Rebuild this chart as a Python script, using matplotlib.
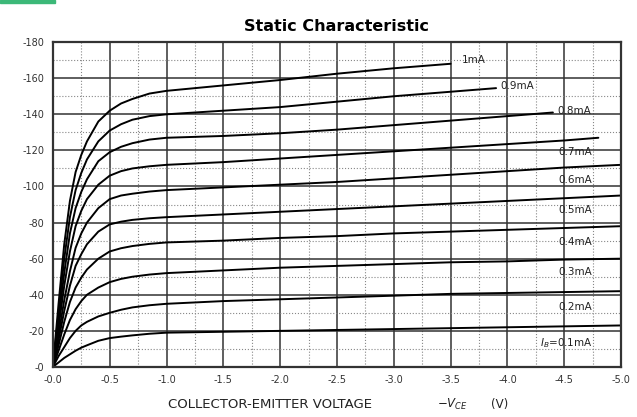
import numpy as np
import matplotlib.pyplot as plt
from matplotlib.patches import Rectangle
from matplotlib.ticker import MultipleLocator

# collector-emitter voltage grid (V, magnitude) and curve end points
vce = [0, 0.05, 0.1, 0.15, 0.2, 0.25, 0.3, 0.4, 0.5, 0.6, 0.7, 0.85, 1.0,
       1.5, 2.0, 2.5, 3.0, 3.5, 4.0, 4.5, 5.0]
vce_end = [5.0, 5.0, 5.0, 5.0, 5.0, 5.0, 4.8, 4.4, 3.9, 3.5]

# collector current (uA, magnitude), one list per base current
ic_01 = [0, 2.5, 5, 7, 9, 10.7, 12, 14.5, 16, 16.8, 17.5, 18.4, 19, 19.5, 20, 20.5, 21, 21.5, 22, 22.5, 23]
ic_02 = [0, 6, 11, 16, 20, 23, 25, 28, 30, 31.7, 33, 34.2, 35, 36.5, 37.5, 38.5, 39.5, 40.5, 41, 41.5, 42]
ic_03 = [0, 9, 18, 26, 32, 36.5, 40, 44, 47, 48.8, 50, 51.2, 52, 53.5, 55, 56, 57, 58, 58.5, 59.5, 60]
ic_04 = [0, 12, 25, 36, 44, 49.5, 54, 60, 64, 65.8, 67, 68.2, 69, 70, 71.5, 72.5, 74, 75, 76, 77, 78]
ic_05 = [0, 15, 31, 45, 56, 62.5, 68, 75, 79, 80.5, 81.5, 82.4, 83, 84.5, 86, 87.5, 89, 90.5, 92, 93.5, 95]
ic_06 = [0, 18, 37, 53, 66, 74, 80, 88, 93, 95, 96, 97.2, 98, 99.5, 101, 102.5, 104.5, 106.5, 108.5, 110.5, 112]
ic_07 = [0, 22, 45, 64, 78, 86.5, 93, 101, 106, 108.5, 110, 111.2, 112, 113.5, 115.5, 117.5, 119.5, 121.5, 123.5, 125.5, 127]
ic_08 = [0, 26, 52, 74, 88, 97, 104, 114, 119, 122, 124, 126, 127, 128, 129.5, 131.5, 134, 136.5, 139, 141]
ic_09 = [0, 30, 60, 83, 98, 107.5, 115, 125, 131, 134.5, 137, 139, 140, 142, 144, 147, 150, 152.5, 154.5]
ic_10 = [0, 35, 68, 92, 108, 117.5, 125, 136, 142, 146, 148.5, 151.5, 153, 156, 159, 162.5, 165.5, 168]
curves = [ic_01, ic_02, ic_03, ic_04, ic_05, ic_06, ic_07, ic_08, ic_09, ic_10]

labels = ['$I_B$=0.1mA', '0.2mA', '0.3mA', '0.4mA', '0.5mA', '0.6mA',
          '0.7mA', '0.8mA', '0.9mA', '1mA']
label_v = [4.29, 4.45, 4.45, 4.45, 4.45, 4.45, 4.45, 4.44, 3.94, 3.6]
label_i = [13, 33, 52.5, 69, 87, 103.5, 119, 142, 155.5, 170]

xticks = np.arange(0, 5.01, 0.5)
xticklabels = ['-0.0', '-0.5', '-1.0', '-1.5', '-2.0', '-2.5', '-3.0', '-3.5', '-4.0', '-4.5', '-5.0']
yticks = np.arange(0, 181, 20)
yticklabels = ['-0', '-20', '-40', '-60', '-80', '-100', '-120', '-140', '-160', '-180']

fig = plt.figure(figsize=(6.37, 4.17), dpi=100)
ax = fig.add_axes([0.083, 0.12, 0.892, 0.779])

for ic, vend in zip(curves, vce_end):
    v = [x for x in vce if x < vend] + [vend]
    ax.plot(-np.array(v), -np.array(ic), color='black', lw=1.4,
            solid_capstyle='round', solid_joinstyle='round')

for txt, lv, li in zip(labels, label_v, label_i):
    ax.text(-lv, -li, txt, fontsize=7.5, color='#222222', ha='left', va='center')

ax.set_xlim(0, -5)
ax.set_ylim(0, -180)
ax.set_xticks(-xticks)
ax.set_xticklabels(xticklabels)
ax.set_yticks(-yticks)
ax.set_yticklabels(yticklabels)
ax.xaxis.set_minor_locator(MultipleLocator(0.25))
ax.yaxis.set_minor_locator(MultipleLocator(10))
ax.grid(which='major', color='#333333', lw=1.1)
ax.grid(which='minor', color='#888888', lw=0.8, ls=':')
ax.set_axisbelow(True)
ax.tick_params(which='both', length=0, labelsize=7, colors='#333333', pad=6)
for s in ax.spines.values():
    s.set_color('#333333')
    s.set_linewidth(1.6)

ax.set_title('Static Characteristic', fontsize=11.5, fontweight='bold', pad=8)
fig.text(0.424, 0.03, 'COLLECTOR-EMITTER VOLTAGE', fontsize=9.5, ha='center', va='center', color='#222222')
fig.text(0.71, 0.03, '$-V_{CE}$', fontsize=8.5, ha='center', va='center', color='#222222')
fig.text(0.785, 0.03, '(V)', fontsize=8.5, ha='center', va='center', color='#222222')
fig.patches.append(Rectangle((0, 0.992), 0.087, 0.008, transform=fig.transFigure,
                             color='#3cb878', zorder=5))

fig.savefig('out.png', dpi=100)
